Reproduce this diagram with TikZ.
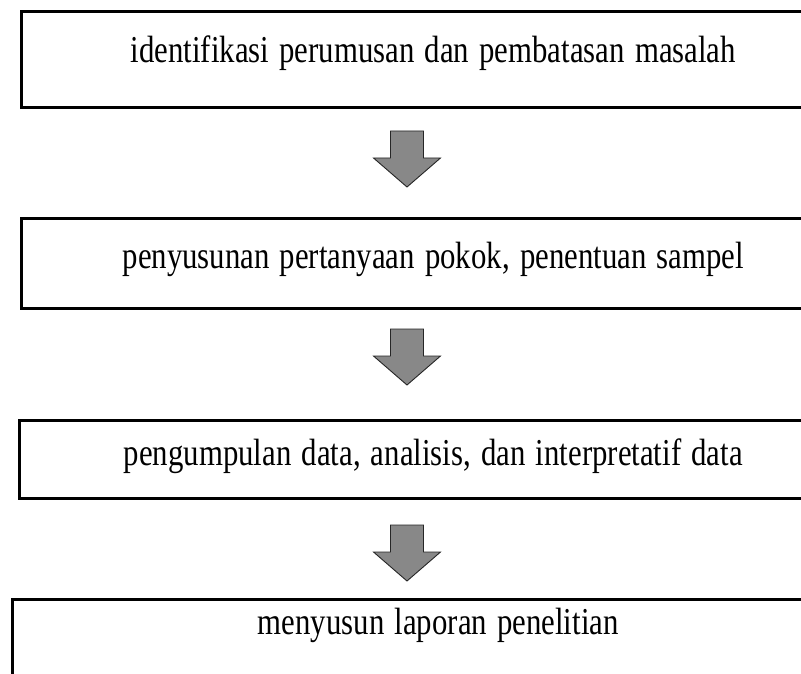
\documentclass[tikz,border=0pt]{standalone}
\usepackage{fontspec}
\setmainfont{Liberation Serif}
\usetikzlibrary{positioning}
\definecolor{arrowgray}{RGB}{136,136,136}
\newcommand{\narrowtext}[1]{\scalebox{0.81}[1]{#1}}
\tikzset{
  stepbox/.style={draw, line width=3pt, inner ysep=0pt, align=center, anchor=north west,
    font=\fontsize{38}{44}\selectfont},
  downarrow/.pic={
    \draw[draw=black!85, line width=0.9pt, fill=arrowgray]
      (-16.5,0) -- (16.5,0) -- (16.5,-27) -- (33.5,-27) -- (0,-56)
      -- (-33.5,-27) -- (-16.5,-27) -- cycle;
  }
}
\begin{document}
\begin{tikzpicture}[x=1pt, y=1pt]
\useasboundingbox (0,0) rectangle (801,-674);
\clip (0,0) rectangle (801,-674);
\node[stepbox, text width=817pt, text height=51.5pt, text depth=44.5pt] (identifikasi) at (20,-10) {\narrowtext{identifikasi perumusan dan pembatasan masalah}};
\node[stepbox, text width=817pt, text height=49.5pt, text depth=40.5pt] (penyusunan) at (20,-217) {\narrowtext{penyusunan pertanyaan pokok, penentuan sampel}};
\node[stepbox, text width=821pt, text height=44.5pt, text depth=33.5pt] (pengumpulan) at (18,-419) {\narrowtext{pengumpulan data, analisis, dan interpretatif data}};
\node[stepbox, text width=845pt, text height=34.5pt, text depth=67.5pt] (laporan) at (11,-598) {\narrowtext{menyusun laporan penelitian}};
\pic at (407,-131) {downarrow};
\pic at (407,-329) {downarrow};
\pic at (407,-525) {downarrow};
\end{tikzpicture}
\end{document}
